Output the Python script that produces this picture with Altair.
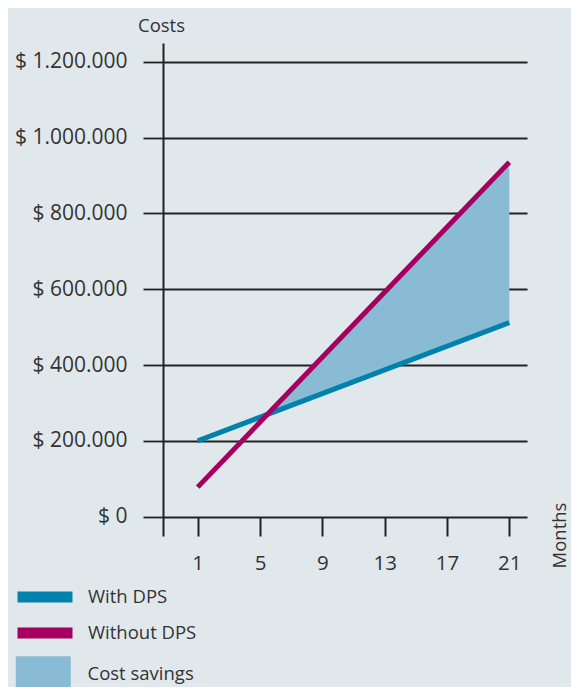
import altair as alt
import pandas as pd

# ---- data ----
months = [1, 21]
with_dps = [200000, 512000]
without_dps = [78000, 935000]
series_names = ["With DPS", "Without DPS"]
series_colors = ["#0082ad", "#a5005f"]
savings_label = ["Cost savings"]
savings_color = ["#8abbd5"]
y_ticks = [0, 200000, 400000, 600000, 800000, 1000000, 1200000]
x_ticks = [1, 5, 9, 13, 17, 21]

lines = pd.DataFrame({
    "month": months * 2,
    "cost": with_dps + without_dps,
    "series": [series_names[0]] * 2 + [series_names[1]] * 2,
})

# shaded savings region: from where the two straight lines cross, to the last month
sw = (with_dps[1] - with_dps[0]) / (months[1] - months[0])
so = (without_dps[1] - without_dps[0]) / (months[1] - months[0])
cross = months[0] + (with_dps[0] - without_dps[0]) / (so - sw)
cval = with_dps[0] + sw * (cross - months[0])
area = pd.DataFrame({
    "month": [cross, months[1]],
    "low": [cval, with_dps[1]],
    "high": [cval, without_dps[1]],
    "label": savings_label * 2,
})

FONT = "Open Sans"
TXT = "#333333"
INK = "#222222"
BG = "#e1e8ec"

xscale = alt.Scale(domain=[-1.227, 22.136], nice=False, zero=False)
yscale = alt.Scale(domain=[-50900, 1249300], nice=False, zero=False)

xaxis = alt.Axis(
    values=x_ticks, grid=False, domain=False, offset=-19,
    tickSize=19, tickWidth=2, tickColor=INK,
    labelFontSize=20.5, labelColor=TXT, labelPadding=17, labelFlush=False,
    title="Months", titleAngle=270, titleX=402, titleY=18,
    titleAlign="center", titleBaseline="alphabetic",
    titleFontSize=18.5, titleFontWeight="normal", titleColor=TXT,
)
yaxis = alt.Axis(
    values=y_ticks, grid=True, gridColor=INK, gridWidth=1.8,
    domain=True, domainColor=INK, domainWidth=2,
    tickSize=20, tickWidth=1.8, tickColor=INK,
    labelFontSize=21, labelColor=TXT, labelPadding=16,
    labelExpr="'$ ' + replace(replace(format(datum.value, ','), ',', '.'), ',', '.')",
    title="Costs", titleAngle=0, titleX=-2, titleY=-12,
    titleAlign="center", titleBaseline="alphabetic",
    titleFontSize=18.5, titleFontWeight="normal", titleColor=TXT,
)

area_layer = alt.Chart(area).mark_area(opacity=1).encode(
    x=alt.X("month:Q", scale=xscale, axis=xaxis),
    y=alt.Y("low:Q", scale=yscale, axis=yaxis),
    y2="high:Q",
    fill=alt.Fill(
        "label:N",
        scale=alt.Scale(domain=savings_label, range=savings_color),
        legend=alt.Legend(
            title=None, orient="none", legendX=-129, legendY=622, padding=0,
            symbolType="M-5,-3.27H5V3.27H-5Z", symbolSize=121, symbolStrokeWidth=0,
            symbolOpacity=1,
            labelFontSize=18.5, labelColor=TXT, labelOffset=35, labelFont=FONT,
        ),
    ),
)

line_layer = alt.Chart(lines).mark_line(strokeWidth=5, strokeCap="butt").encode(
    x=alt.X("month:Q", scale=xscale, axis=xaxis),
    y=alt.Y("cost:Q", scale=yscale, axis=yaxis),
    color=alt.Color(
        "series:N",
        scale=alt.Scale(domain=series_names, range=series_colors),
        sort=series_names,
        legend=alt.Legend(
            title=None, orient="none", legendX=-129, legendY=543, padding=0,
            symbolType="M-5,0H5", symbolSize=121, symbolStrokeWidth=11,
            labelFontSize=18.5, labelColor=TXT, labelOffset=32, labelFont=FONT,
            rowPadding=-8,
        ),
    ),
    order=alt.Order("month:Q"),
)

chart = alt.layer(area_layer, line_layer).properties(
    width=364,
    height=493,
    padding={"left": 155, "top": 35, "right": 44, "bottom": 151},
    autosize=alt.AutoSizeParams(type="none"),
    background=BG,
).configure(font=FONT).configure_view(stroke=None)

chart.save("out.html", embed_options={"renderer": "svg", "actions": False})
